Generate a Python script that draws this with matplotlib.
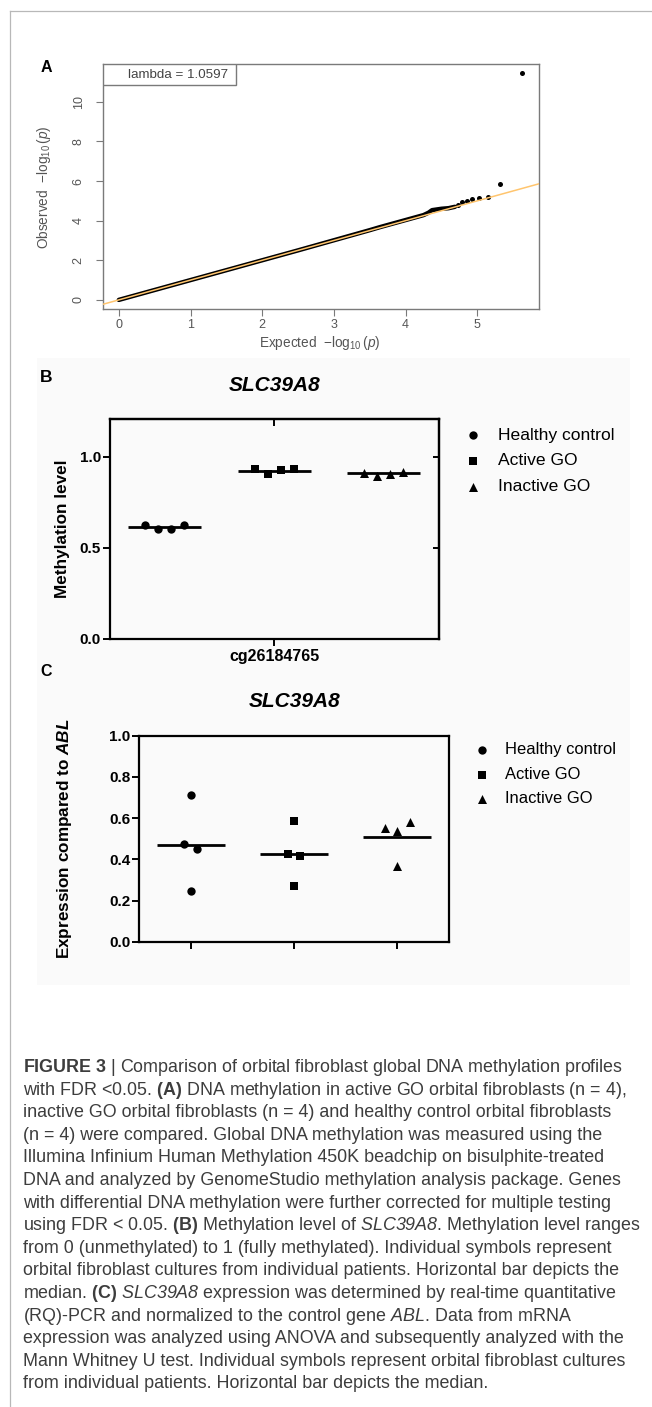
import matplotlib
matplotlib.use('Agg')
import matplotlib.pyplot as plt
from matplotlib.lines import Line2D
from matplotlib.patches import Rectangle
import numpy as np

plt.rcParams['font.family'] = ['Liberation Sans', 'DejaVu Sans']
plt.rcParams['mathtext.fontset'] = 'custom'
plt.rcParams['mathtext.rm'] = 'Liberation Sans'
plt.rcParams['mathtext.it'] = 'Liberation Sans:italic'
plt.rcParams['mathtext.bf'] = 'Liberation Sans:bold'
plt.rcParams['mathtext.bfit'] = 'Liberation Sans:bold:italic'
plt.rcParams['mathtext.sf'] = 'Liberation Sans:italic'

# ---------------- data ----------------
# Panel A: QQ plot (dense part read along the band, then the individual tail points)
qq_expected = [0.0, 0.5, 1.0, 1.5, 2.0, 2.5, 3.0, 3.5, 3.64, 4.0, 4.25, 4.32, 4.37, 4.5, 4.6, 4.69]
qq_observed = [0.0, 0.5, 1.0, 1.5, 2.0, 2.5, 3.01, 3.52, 3.67, 4.03, 4.28, 4.40, 4.53, 4.60, 4.63, 4.70]
qq_tail_expected = [4.73, 4.79, 4.86, 4.93, 5.03, 5.15, 5.32, 5.63]
qq_tail_observed = [4.81, 4.95, 5.00, 5.07, 5.15, 5.20, 5.84, 11.45]
qq_xticks = [0, 1, 2, 3, 4, 5]
qq_yticks = [0, 2, 4, 6, 8, 10]
lambda_label = "lambda = 1.0597"

# Panels B / C
gene = "SLC39A8"
groups = ["Healthy control", "Active GO", "Inactive GO"]
probe = "cg26184765"

meth_healthy = [0.625, 0.602, 0.602, 0.625]
meth_active = [0.931, 0.905, 0.925, 0.934]
meth_inactive = [0.912, 0.894, 0.907, 0.918]
meth_medians = [0.613, 0.923, 0.911]
meth_yticks = [0.0, 0.5, 1.0]

expr_healthy = [0.71, 0.475, 0.45, 0.245]
expr_active = [0.586, 0.427, 0.415, 0.270]
expr_inactive = [0.550, 0.537, 0.581, 0.366]
expr_medians = [0.469, 0.427, 0.508]
expr_yticks = [0.0, 0.2, 0.4, 0.6, 0.8, 1.0]

caption_lines = [
    r"$\mathbf{FIGURE\ 3}$ | Comparison of orbital fibroblast global DNA methylation profiles",
    r"with FDR <0.05. $\mathbf{(A)}$ DNA methylation in active GO orbital fibroblasts (n = 4),",
    "inactive GO orbital fibroblasts (n = 4) and healthy control orbital fibroblasts",
    "(n = 4) were compared. Global DNA methylation was measured using the",
    "Illumina Infinium Human Methylation 450K beadchip on bisulphite-treated",
    "DNA and analyzed by GenomeStudio methylation analysis package. Genes",
    "with differential DNA methylation were further corrected for multiple testing",
    r"using FDR < 0.05. $\mathbf{(B)}$ Methylation level of $\mathsf{SLC39A8}$. Methylation level ranges",
    "from 0 (unmethylated) to 1 (fully methylated). Individual symbols represent",
    "orbital fibroblast cultures from individual patients. Horizontal bar depicts the",
    r"median. $\mathbf{(C)}$ $\mathsf{SLC39A8}$ expression was determined by real-time quantitative",
    r"(RQ)-PCR and normalized to the control gene $\mathsf{ABL}$. Data from mRNA",
    "expression was analyzed using ANOVA and subsequently analyzed with the",
    "Mann Whitney U test. Individual symbols represent orbital fibroblast cultures",
    "from individual patients. Horizontal bar depicts the median.",
]

# ---------------- layout helpers ----------------
W, H = 652, 1407
fig = plt.figure(figsize=(W / 100, H / 100), dpi=100)


def fx(x):
    return x / W


def fy(y):
    return 1 - y / H


def add_axes_px(x0, y0, x1, y1):
    return fig.add_axes([x0 / W, 1 - y1 / H, (x1 - x0) / W, (y1 - y0) / H])


# outer frame lines and panel background
fig.add_artist(Line2D([fx(9.5), fx(9.5)], [0, fy(10.5)], transform=fig.transFigure,
                      color='#b8b8b8', lw=0.9))
fig.add_artist(Line2D([fx(9.5), 1.0], [fy(10.5), fy(10.5)], transform=fig.transFigure,
                      color='#b8b8b8', lw=0.9))
fig.add_artist(Rectangle((fx(36.7), fy(985)), (630 - 36.7) / W, (985 - 358) / H,
                         transform=fig.transFigure, facecolor='#fafafa', edgecolor='none',
                         zorder=0))

# ---------------- Panel A ----------------
axA = add_axes_px(102.7, 64, 538.5, 309)
axA.set_xlim(-0.225, 5.855)
axA.set_ylim(-0.46, 11.91)
axA.plot(qq_expected, qq_observed, color='black', lw=3.2, solid_capstyle='round',
         solid_joinstyle='round', zorder=2)
axA.scatter(qq_tail_expected, qq_tail_observed, s=13, color='black', zorder=2, linewidths=0)
axA.axline((0, 0), slope=1, color='#ffc56e', lw=1.1, zorder=3)
for sp in axA.spines.values():
    sp.set_color('#7a7a7a')
    sp.set_linewidth(1.0)
axA.set_xticks(qq_xticks)
axA.set_yticks(qq_yticks)
axA.tick_params(direction='out', length=5, width=0.8, color='#7a7a7a', labelcolor='#555555',
                labelsize=9, pad=2.5)
axA.tick_params(axis='y', labelrotation=90, pad=8)
for lab in axA.get_yticklabels():
    lab.set_va('center')
axA.add_patch(Rectangle((0, 1 - 21 / 245), 133.3 / 435.8, 21 / 245, transform=axA.transAxes,
                        facecolor='white', edgecolor='#7a7a7a', lw=1.0, zorder=4))
axA.text(0.173, 1 - 10.5 / 245, lambda_label, transform=axA.transAxes, ha='center',
         va='center', fontsize=9.6, color='#444444', zorder=5)
fig.text(fx(320), fy(343), r"Expected  $-\log_{10}(p)$", ha='center', va='center',
         fontsize=9.8, color='#555555')
fig.text(fx(44), fy(187), r"Observed  $-\log_{10}(p)$", ha='center', va='center',
         fontsize=9.8, color='#555555', rotation=90)
fig.text(fx(46), fy(67), "A", ha='center', va='center', fontsize=11.5, fontweight='bold')

# ---------------- common group styling ----------------
markers = ['o', 's', '^']
msizes = [36, 36, 42]

# ---------------- Panel B ----------------
axB = add_axes_px(110, 419, 438.7, 639)
axB.set_facecolor('none')
axB.set_xlim(-1.5, 1.5)
axB.set_ylim(0, 1.206)
meth_offsets = [-0.178, -0.06, 0.06, 0.178]
handles = []
for gi, vals in enumerate([meth_healthy, meth_active, meth_inactive]):
    xc = gi - 1
    h = axB.scatter([xc + o for o in meth_offsets], vals, marker=markers[gi], s=msizes[gi],
                    color='black', linewidths=0, zorder=3, label=groups[gi])
    handles.append(h)
    axB.hlines(meth_medians[gi], xc - 0.333, xc + 0.333, color='black', lw=2.0, zorder=2)
for sp in axB.spines.values():
    sp.set_linewidth(1.6)
axB.set_yticks(meth_yticks)
axB.set_yticklabels([f"{v:.1f}" for v in meth_yticks])
axB.set_xticks([0])
axB.set_xticklabels([probe])
axB.tick_params(direction='out', length=5, width=1.4, labelsize=11, pad=1.5)
axB.tick_params(axis='x', labelsize=11.5, pad=2)
for lab in axB.get_yticklabels() + axB.get_xticklabels():
    lab.set_fontweight('bold')
secy = axB.secondary_yaxis('right')
secy.set_yticks([0.5, 1.0])
secy.tick_params(direction='in', length=4, width=1.4, labelright=False)
secy.spines['right'].set_linewidth(1.6)
secx = axB.secondary_xaxis('top')
secx.set_xticks([0])
secx.tick_params(direction='in', length=5, width=1.4, labeltop=False)
secx.spines['top'].set_linewidth(1.6)
fig.text(fx(274.3), fy(386), gene, ha='center', va='center', fontsize=15,
         fontweight='bold', fontstyle='italic')
fig.text(fx(63), fy(529), "Methylation level", ha='center', va='center', fontsize=12.3,
         fontweight='bold', rotation=90)
fig.text(fx(46), fy(378), "B", ha='center', va='center', fontsize=12.5, fontweight='bold')
fsB = 12.6
fig.legend(handles, groups, loc='upper left', bbox_to_anchor=(fx(464), fy(427.5)),
           frameon=False, fontsize=fsB, handlelength=1.0, handletextpad=0.94,
           labelspacing=0.6, borderpad=0, borderaxespad=0, scatterpoints=1)

# ---------------- Panel C ----------------
axC = add_axes_px(139.3, 735.7, 449, 941.7)
axC.set_facecolor('none')
axC.set_xlim(-1.5, 1.5)
axC.set_ylim(0, 1.0)
expr_offsets = [[0, -0.063, 0.063, 0], [0, -0.062, 0.06, 0], [-0.12, 0, 0.12, 0]]
handlesC = []
for gi, vals in enumerate([expr_healthy, expr_active, expr_inactive]):
    xc = gi - 1
    h = axC.scatter([xc + o for o in expr_offsets[gi]], vals, marker=markers[gi],
                    s=msizes[gi], color='black', linewidths=0, zorder=3, label=groups[gi])
    handlesC.append(h)
    axC.hlines(expr_medians[gi], xc - 0.33, xc + 0.33, color='black', lw=2.0, zorder=2)
for sp in axC.spines.values():
    sp.set_linewidth(1.6)
axC.set_yticks(expr_yticks)
axC.set_yticklabels([f"{v:.1f}" for v in expr_yticks])
axC.set_xticks([-1, 0, 1])
axC.set_xticklabels([])
axC.tick_params(direction='out', length=5, width=1.4, labelsize=11, pad=1.5)
for lab in axC.get_yticklabels():
    lab.set_fontweight('bold')
fig.text(fx(294.2), fy(701.7), gene, ha='center', va='center', fontsize=15,
         fontweight='bold', fontstyle='italic')
fig.text(fx(64.5), fy(838.7), r"Expression compared to $\mathbfit{ABL}$", ha='center',
         va='center', fontsize=12.3, fontweight='bold', rotation=90)
fig.text(fx(46), fy(671), "C", ha='center', va='center', fontsize=11.5, fontweight='bold')
fsC = 11.9
fig.legend(handlesC, groups, loc='upper left', bbox_to_anchor=(fx(473.8), fy(742.3)),
           frameon=False, fontsize=fsC, handlelength=1.0, handletextpad=0.89,
           labelspacing=0.58, borderpad=0, borderaxespad=0, scatterpoints=1)

# ---------------- caption ----------------
cap_x = 22.9
cap_y0 = 1072
cap_dy = 22.6
renderer = fig.canvas.get_renderer()
wmax = 0
for line in caption_lines:
    probe_t = fig.text(0, 0, line, fontsize=10)
    wmax = max(wmax, probe_t.get_window_extent(renderer).width)
    probe_t.remove()
cap_fs = 10 * 620 / wmax
for i, line in enumerate(caption_lines):
    fig.text(fx(cap_x), fy(cap_y0 + i * cap_dy), line, ha='left', va='baseline',
             fontsize=cap_fs, color='#3d3d3d')

fig.savefig('out.png', dpi=100)
